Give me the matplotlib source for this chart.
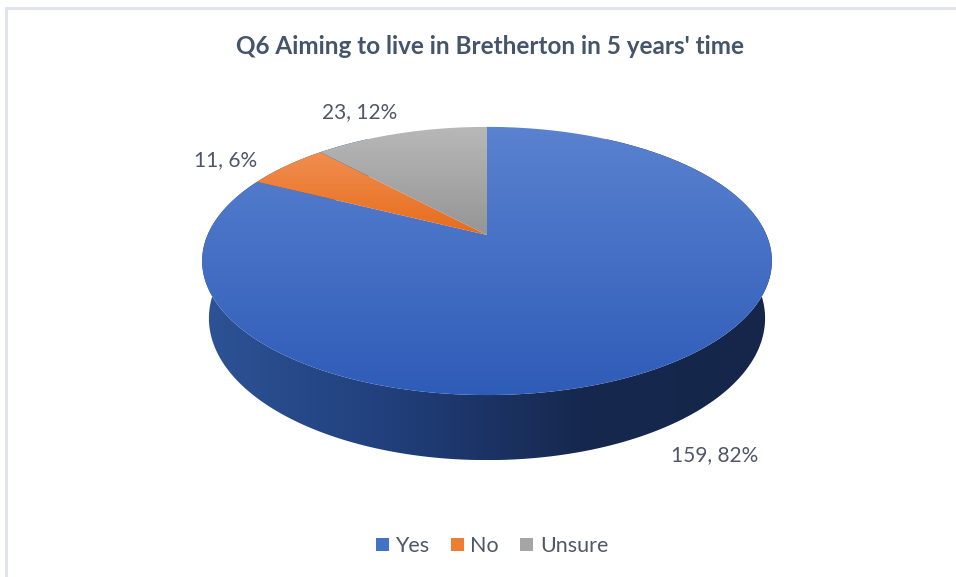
import numpy as np
import matplotlib.pyplot as plt
from matplotlib.patches import Polygon, Patch
from matplotlib.colors import LinearSegmentedColormap

# data
labels = ['Yes', 'No', 'Unsure']
counts = [159, 11, 23]
colors = ['#4472c4', '#ed7d31', '#a5a5a5']
top_light = ['#5a82d0', '#f18e50', '#b8b8b8']
top_dark = ['#2f5cb8', '#e66c1c', '#959595']
title = "Q6 Aiming to live in Bretherton in 5 years' time"

W, H = 956, 577
fig = plt.figure(figsize=(W / 100, H / 100), dpi=100)
ax = fig.add_axes([0, 0, 1, 1])
ax.set_xlim(0, W)
ax.set_ylim(H, 0)
ax.axis('off')

# simple perspective model of the 3d pie
cx, cy = 487, 235
F = 1280
phi = np.radians(27.5)
sp, cp = np.sin(phi), np.cos(phi)
D = 4.58
h = 0.233


def proj(theta, z):
    t = np.radians(theta)
    X, Y = np.sin(t), np.cos(t)
    v = Y * sp + z * cp
    dep = D + Y * cp - z * sp
    return cx + X * F / dep, cy - v * F / dep


def grad_fill(poly_xy, c1, c2):
    patch = Polygon(poly_xy, closed=True, facecolor='none', edgecolor='none')
    ax.add_patch(patch)
    x0, y0 = poly_xy[:, 0].min(), poly_xy[:, 1].min()
    x1, y1 = poly_xy[:, 0].max(), poly_xy[:, 1].max()
    cmap = LinearSegmentedColormap.from_list('g', [c1, c2])
    g = np.linspace(0, 1, 256)[:, np.newaxis]
    im = ax.imshow(g, cmap=cmap, extent=(x0, x1, y1, y0), origin='upper',
                   aspect='auto', interpolation='bilinear', zorder=2)
    im.set_clip_path(patch)


# side wall (front band)
th = np.linspace(30, 330, 400)
tx, ty = proj(th, 0)
bx, by = proj(th[::-1], -h)
side = np.column_stack([np.r_[tx, bx], np.r_[ty, by]])
side_cmap = LinearSegmentedColormap.from_list('s', ['#2d5396', '#213f7b', '#16284e', '#15264a'])
patch = Polygon(side, closed=True, facecolor='none', edgecolor='none')
ax.add_patch(patch)
g = np.linspace(0, 1, 256)[np.newaxis, :]
im = ax.imshow(g, cmap=side_cmap, extent=(side[:, 0].min(), side[:, 0].max(),
               side[:, 1].max(), side[:, 1].min()), origin='upper', aspect='auto', zorder=2)
im.set_clip_path(patch)

# top faces
total = sum(counts)
start = 0.0
for i, c in enumerate(counts):
    sweep = 360.0 * c / total
    a = np.linspace(start, start + sweep, max(int(sweep * 2), 10))
    px, py = proj(a, 0)
    poly = np.column_stack([np.r_[cx, px], np.r_[cy, py]])
    grad_fill(poly, top_light[i], top_dark[i])
    start += sweep

ax.set_xlim(0, W)
ax.set_ylim(H, 0)

# data labels
txt_color = '#4f5869'
lab_pos = [(715, 455), (226, 160), (360, 112)]
for i, c in enumerate(counts):
    pct = round(100 * c / total)
    ax.text(lab_pos[i][0], lab_pos[i][1], f'{c}, {pct}%', ha='center', va='center',
            fontsize=15, color=txt_color, family='Lato', zorder=5)

ax.text(490, 46, title, ha='center', va='center', fontsize=17.5, fontweight='bold',
        color='#44546a', family='Lato', zorder=5)

# legend
handles = [Patch(facecolor=colors[i], edgecolor='none', label=labels[i]) for i in range(3)]
leg = ax.legend(handles=handles, loc='center', bbox_to_anchor=(492 / W, 1 - 546 / H),
                ncol=3, frameon=False, handlelength=0.6, handleheight=0.6,
                handletextpad=0.3, columnspacing=1.0,
                prop={'family': 'Lato', 'size': 15.5})
for t in leg.get_texts():
    t.set_color(txt_color)

# chart border (left and top only visible)
ax.plot([6, 6], [8, H], color='#dfe3ea', lw=2, zorder=1)
ax.plot([6, W], [8, 8], color='#dfe3ea', lw=2, zorder=1)

fig.savefig('out.png', dpi=100)
